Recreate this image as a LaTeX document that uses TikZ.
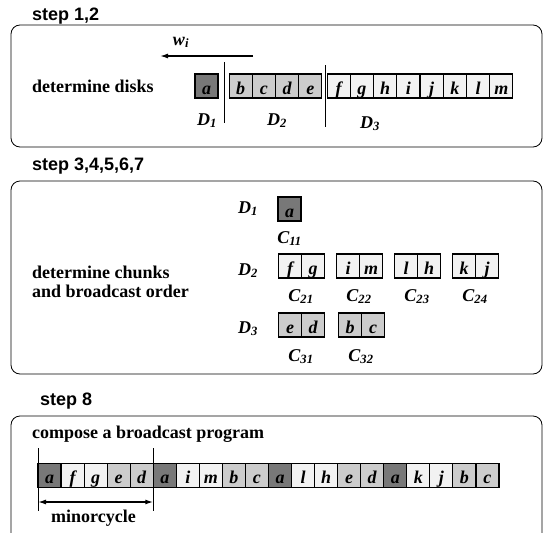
\documentclass[tikz,border=0pt]{standalone}
\usepackage{fontspec}
\setmainfont{Liberation Serif}
\setsansfont{Liberation Sans}
\usetikzlibrary{positioning,arrows.meta}

\definecolor{diskone}{gray}{0.47}
\definecolor{disktwo}{gray}{0.8}
\definecolor{diskthree}{gray}{0.95}
\newcommand{\bigfont}{\fontsize{18}{20}\selectfont}

\tikzstyle{every node}+=[inner sep=0pt]
\tikzstyle{txt}=[anchor=base west,font=\bigfont\bfseries]
\tikzstyle{lbl}=[anchor=base,font=\bigfont\bfseries\itshape]
\tikzstyle{head}=[anchor=base west,font=\bigfont\sffamily\bfseries]
\tikzstyle{panel}=[rounded corners=9pt,line width=0.8pt]
\tikzstyle{cell}=[draw,line width=1.1pt,minimum width=23pt,text height=20pt,text depth=4pt,font=\bigfont\bfseries\itshape,node distance=23.2pt]
\tikzstyle{d1}=[cell,fill=diskone]
\tikzstyle{d2}=[cell,fill=disktwo]
\tikzstyle{d3}=[cell,fill=diskthree]
\tikzstyle{tip}=[line width=1.4pt]

\begin{document}
\begin{tikzpicture}[x=1pt,y=-1pt]
\useasboundingbox (0,0) rectangle (544,533);
\clip (0,0) rectangle (544,533);

% step 1,2: split the items into disks
\node[head] (h1) at (32,20) {step 1,2};
\draw[panel] (11,25) rectangle (542,147);
\node[txt] (t1) at (32,92) {determine disks};

\coordinate (wfrom) at (253,56);
\coordinate (wto) at (160,56);
\draw[tip,-{Latex[length=8pt,width=5pt]}] (wfrom) -- (wto);
\node[lbl] (w) at (181,45) {w\textsubscript{i}};

\node[d1] (s1a) at (206.5,86) {a};
\foreach \c [count=\i] in {b,c,d,e}
  \node[d2] (s1\c) at ({229+23.25*(\i-0.5)},86) {\c};
\foreach \c [count=\i] in {f,g,h,i,j,k,l,m}
  \node[d3] (s1\c) at ({327+23.25*(\i-0.5)},86) {\c};
\draw[line width=0.8pt] (224,62) -- (224,123);
\draw[line width=0.8pt] (325,65) -- (325,127);
\node[lbl] (s1d1) at (207,125) {D\textsubscript{1}};
\node[lbl] (s1d2) at (277,125) {D\textsubscript{2}};
\node[lbl] (s1d3) at (370,128) {D\textsubscript{3}};

% step 3..7: chunks per disk
\node[head] (h2) at (32,170) {step 3,4,5,6,7};
\draw[panel] (11,181) rectangle (542,374);
\node[txt] (t2) at (32,278) {determine chunks};
\node[txt] (t3) at (32,297) {and broadcast order};

\node[lbl] (d1) at (248,213) {D\textsubscript{1}};
\node[lbl] (d2) at (248,275) {D\textsubscript{2}};
\node[lbl] (d3) at (248,333) {D\textsubscript{3}};

\node[d1] (c11a) at (289.5,209) {a};
\node[lbl] (c11) at (289.5,243) {C\textsubscript{11}};

\node[d3] (c21a) at (290,266) {f};
\node[d3,right of=c21a] (c21b) {g};
\node[d3] (c22a) at (348,266) {i};
\node[d3,right of=c22a] (c22b) {m};
\node[d3] (c23a) at (406,266) {l};
\node[d3,right of=c23a] (c23b) {h};
\node[d3] (c24a) at (464,266) {k};
\node[d3,right of=c24a] (c24b) {j};
\node[lbl] (c21) at (301,301) {C\textsubscript{21}};
\node[lbl] (c22) at (359,301) {C\textsubscript{22}};
\node[lbl] (c23) at (417,301) {C\textsubscript{23}};
\node[lbl] (c24) at (475,301) {C\textsubscript{24}};

\node[d2] (c31a) at (290,325) {e};
\node[d2,right of=c31a] (c31b) {d};
\node[d2] (c32a) at (350,325) {b};
\node[d2,right of=c32a] (c32b) {c};
\node[lbl] (c31) at (301,361) {C\textsubscript{31}};
\node[lbl] (c32) at (361,361) {C\textsubscript{32}};

% step 8: the broadcast program
\node[head] (h4) at (40,405) {step 8};
\draw[panel] (11,416) rectangle (542,570);
\node[txt] (t4) at (32,438) {compose a broadcast program};
\foreach \c/\s [count=\i] in {a/d1,f/d3,g/d3,e/d2,d/d2,a/d1,i/d3,m/d3,b/d2,c/d2,
    a/d1,l/d3,h/d3,e/d2,d/d2,a/d1,k/d3,j/d3,b/d2,c/d2}
  \node[\s] (p\i) at ({38+23.05*(\i-0.5)},475.5) {\c};

\draw[line width=0.8pt] (38,448) -- (38,511);
\draw[line width=0.8pt] (153.25,448) -- (153.25,511);
\coordinate (mfrom) at (38,502);
\coordinate (mto) at (153.25,502);
\draw[tip,{Latex[length=8pt,width=5pt]}-{Latex[length=8pt,width=5pt]}] (mfrom) -- (mto);
\node[lbl,font=\bigfont\bfseries] (minor) at (93.5,522) {minorcycle};
\end{tikzpicture}
\end{document}
